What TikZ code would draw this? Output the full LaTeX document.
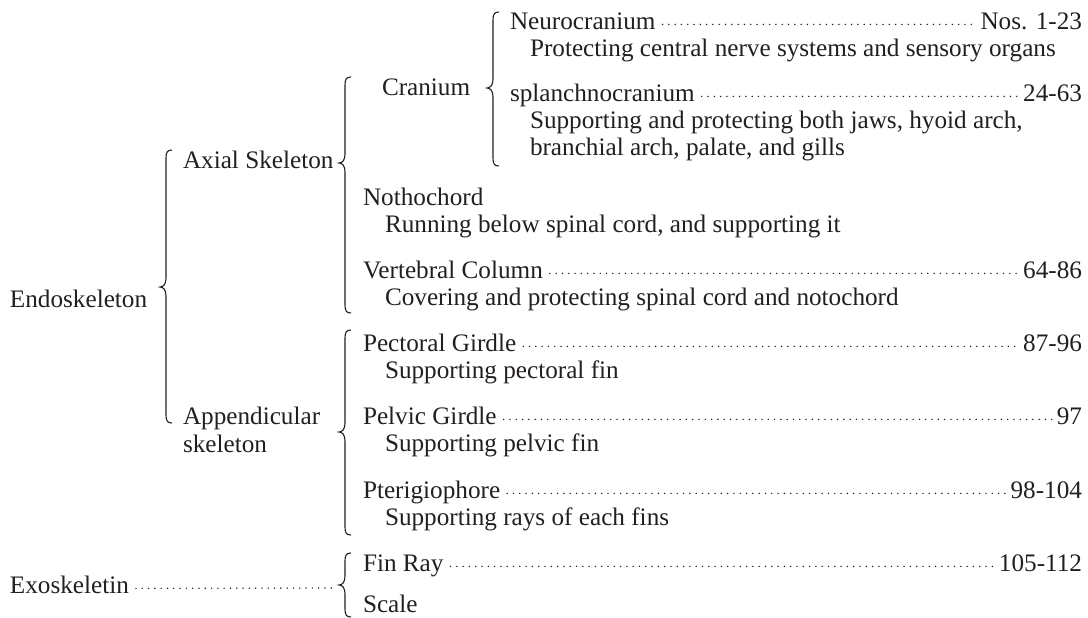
\documentclass[tikz,border=0pt]{standalone}
\usepackage{fontspec}
\setmainfont{Liberation Serif}
\definecolor{ink}{RGB}{35,31,32}
\newcommand\skelbrace[4]{% x, top, cusp, bottom
  \draw[bracel] (#1+6,#2) .. controls (#1+1.5,#2) and (#1,#2+2) .. (#1,#2+8)
    -- (#1,#3-9) .. controls (#1,#3-3) and (#1-2.5,#3) .. (#1-6,#3)
    .. controls (#1-2.5,#3) and (#1,#3+3) .. (#1,#3+9)
    -- (#1,#4-8) .. controls (#1,#4-2) and (#1+1.5,#4) .. (#1+6,#4);}
\begin{document}
\begin{tikzpicture}[x=0.5pt,y=-0.5pt,
  txt/.style={inner sep=0pt,outer sep=0pt,anchor=base west,text=ink,font=\fontsize{12.6}{14}\selectfont},
  num/.style={txt,anchor=base east},
  leader/.style={draw=ink,line width=0.8pt,line cap=round,dash pattern=on 0pt off 3.15pt,shorten <=3.5pt,shorten >=2.5pt},
  bracel/.style={draw=ink,line width=0.55pt}]
\useasboundingbox (0,0) rectangle (1088,617);
% level 0
\node[txt] (endo) at (10,307) {Endoskeleton};
\node[txt] (exo) at (10,593) {Exoskeletin};
% level 1
\node[txt] (axial) at (183,168) {Axial Skeleton};
\node[txt] (app1) at (183,424) {Appendicular};
\node[txt] (app2) at (183,452) {skeleton};
% cranium
\node[txt] (cran) at (382,95) {Cranium};
\node[txt] (neuro) at (510,29) {Neurocranium};
\node[num] (n1) at (1082,29) {Nos. 1-23};
\node[txt] (neurod) at (530,56) {Protecting central nerve systems and sensory organs};
\node[txt] (splan) at (510,101) {splanchnocranium};
\node[num] (n2) at (1082,101) {24-63};
\node[txt] (splanda) at (530,128) {Supporting and protecting both jaws, hyoid arch,};
\node[txt] (splandb) at (530,155) {branchial arch, palate, and gills};
% axial others
\node[txt] (noto) at (363,205) {Nothochord};
\node[txt] (notod) at (385,232) {Running below spinal cord, and supporting it};
\node[txt] (vert) at (363,278) {Vertebral Column};
\node[num] (n3) at (1082,278) {64-86};
\node[txt] (vertd) at (385,305) {Covering and protecting spinal cord and notochord};
% appendicular
\node[txt] (pect) at (363,351) {Pectoral Girdle};
\node[num] (n4) at (1082,351) {87-96};
\node[txt] (pectd) at (385,378) {Supporting pectoral fin};
\node[txt] (pelv) at (363,424) {Pelvic Girdle};
\node[num] (n5) at (1082,424) {97};
\node[txt] (pelvd) at (385,451) {Supporting pelvic fin};
\node[txt] (pter) at (363,498) {Pterigiophore};
\node[num] (n6) at (1082,498) {98-104};
\node[txt] (pterd) at (385,525) {Supporting rays of each fins};
% exoskeleton
\node[txt] (fin) at (363,571) {Fin Ray};
\node[num] (n7) at (1082,571) {105-112};
\node[txt] (scale) at (363,612) {Scale};
\coordinate (exoend) at (334,588);
% leaders
\draw[leader] (neuro.mid east) -- (n1.mid west);
\draw[leader] (splan.mid east) -- (n2.mid west);
\draw[leader] (vert.mid east) -- (n3.mid west);
\draw[leader] (pect.mid east) -- (n4.mid west);
\draw[leader] (pelv.mid east) -- (n5.mid west);
\draw[leader] (pter.mid east) -- (n6.mid west);
\draw[leader] (fin.mid east) -- (n7.mid west);
\draw[leader,shorten >=0pt] (exo.mid east) -- (exoend);
% braces
\skelbrace{166}{150}{287}{423}
\skelbrace{345}{77}{163}{313}
\skelbrace{493}{12}{88}{166}
\skelbrace{345}{330}{432}{535}
\skelbrace{345}{553}{585}{617}
\end{tikzpicture}
\end{document}
